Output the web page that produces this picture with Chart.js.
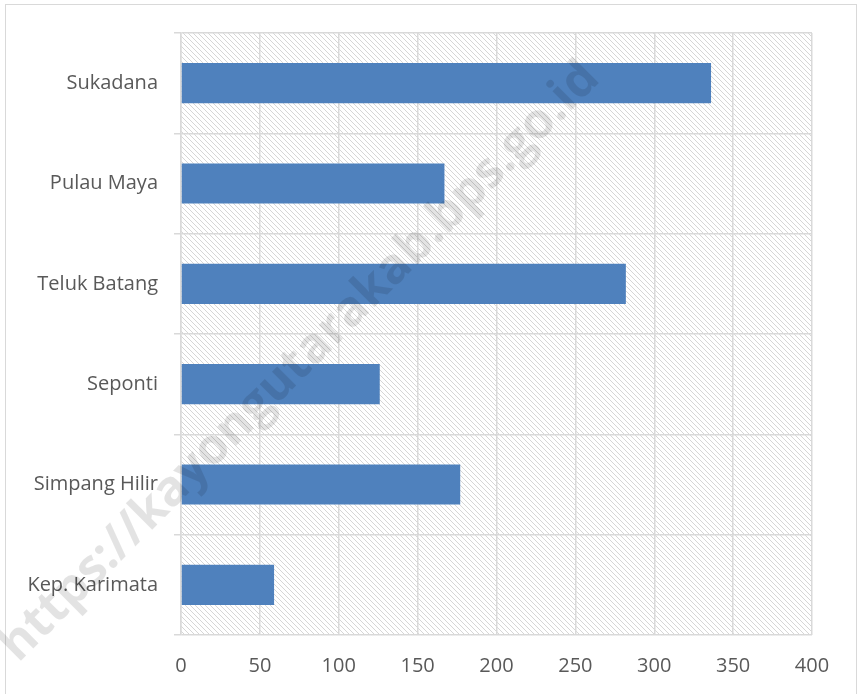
<!DOCTYPE html>
<html>
<head>
<meta charset="utf-8">
<script src="https://cdn.jsdelivr.net/npm/chart.js@4/dist/chart.umd.min.js"></script>
<style>
  html, body { margin: 0; padding: 0; background: #fff; }
  canvas { display: block; }
</style>
</head>
<body>
<canvas id="chartKecamatan" width="859" height="694"></canvas>
<script>
// Data
const kecamatan = ["Sukadana", "Pulau Maya", "Teluk Batang", "Seponti", "Simpang Hilir", "Kep. Karimata"];
const jumlah = [336, 167, 282, 126, 177, 59];
const xTicks = [0, 50, 100, 150, 200, 250, 300, 350, 400];
const watermark = "https://kayongutarakab.bps.go.id";

// hatch pattern for plot area
makeHatch = (ctx) => {
    const tile = document.createElement("canvas");
    tile.width = 5;
    tile.height = 5;
    const t = tile.getContext("2d");
    t.fillStyle = "#fff";
    t.fillRect(0, 0, 5, 5);
    t.fillStyle = "#d6d6d6";
    for (let i = 0; i < 5; i++) {
        t.fillRect(i, i, 1, 1);
    }
    return ctx.createPattern(tile, "repeat");
};

const backdrop = {
    id: "backdrop",
    beforeDraw(chart) {
        const ctx = chart.ctx;
        const a = chart.chartArea;
        ctx.save();
        ctx.fillStyle = "#fff";
        ctx.fillRect(0, 0, chart.width, chart.height);
        ctx.strokeStyle = "#d9d9d9";
        ctx.lineWidth = 1;
        ctx.strokeRect(5.5, 4.5, 851, 700);
        ctx.fillStyle = makeHatch(ctx);
        ctx.fillRect(a.left, a.top, a.right - a.left, a.bottom - a.top);
        ctx.restore();
    },
    afterDraw(chart) {
        const ctx = chart.ctx;
        ctx.save();
        ctx.translate(300, 362);
        ctx.rotate(-Math.PI / 4);
        let size = 44;
        ctx.font = "bold " + size + "px 'Open Sans'";
        size = size * 825 / ctx.measureText(watermark).width;
        ctx.font = "bold " + size + "px 'Open Sans'";
        ctx.fillStyle = "rgba(0,0,0,0.11)";
        ctx.textAlign = "center";
        ctx.textBaseline = "middle";
        ctx.fillText(watermark, 0, 0);
        ctx.restore();
    },
};

setupChart = () => {
    const font = { family: "'Open Sans'", size: 20 };

    const config = {
        type: "bar",
        data: {
            labels: kecamatan,
            datasets: [
                {
                    data: jumlah,
                    backgroundColor: "#4f81bd",
                    borderWidth: 0,
                    barPercentage: 0.4,
                    categoryPercentage: 1.0,
                },
            ],
        },
        options: {
            indexAxis: "y",
            responsive: false,
            animation: false,
            layout: { padding: { left: 0, top: 33, right: 47, bottom: 0 } },
            plugins: {
                legend: { display: false },
                tooltip: { enabled: false },
            },
            scales: {
                x: {
                    min: 0,
                    max: 400,
                    afterBuildTicks: (scale) => {
                        scale.ticks = xTicks.map((v) => ({ value: v }));
                    },
                    afterFit: (scale) => {
                        scale.height = 59;
                    },
                    grid: { color: "#d9d9d9", lineWidth: 1.5, drawTicks: false },
                    border: { display: false },
                    ticks: { color: "#595959", font, padding: 19, maxRotation: 0 },
                },
                y: {
                    afterFit: (scale) => {
                        scale.width = 181;
                    },
                    grid: { color: "#d9d9d9", lineWidth: 1.5, tickLength: 7, offset: true },
                    border: { color: "#d9d9d9", width: 1.5 },
                    ticks: { color: "#595959", font, padding: 16 },
                },
            },
        },
        plugins: [backdrop],
    };

    let ctx = document.getElementById("chartKecamatan");

    let barChart = new Chart(ctx, config);
};

setupChart();
</script>
</body>
</html>
